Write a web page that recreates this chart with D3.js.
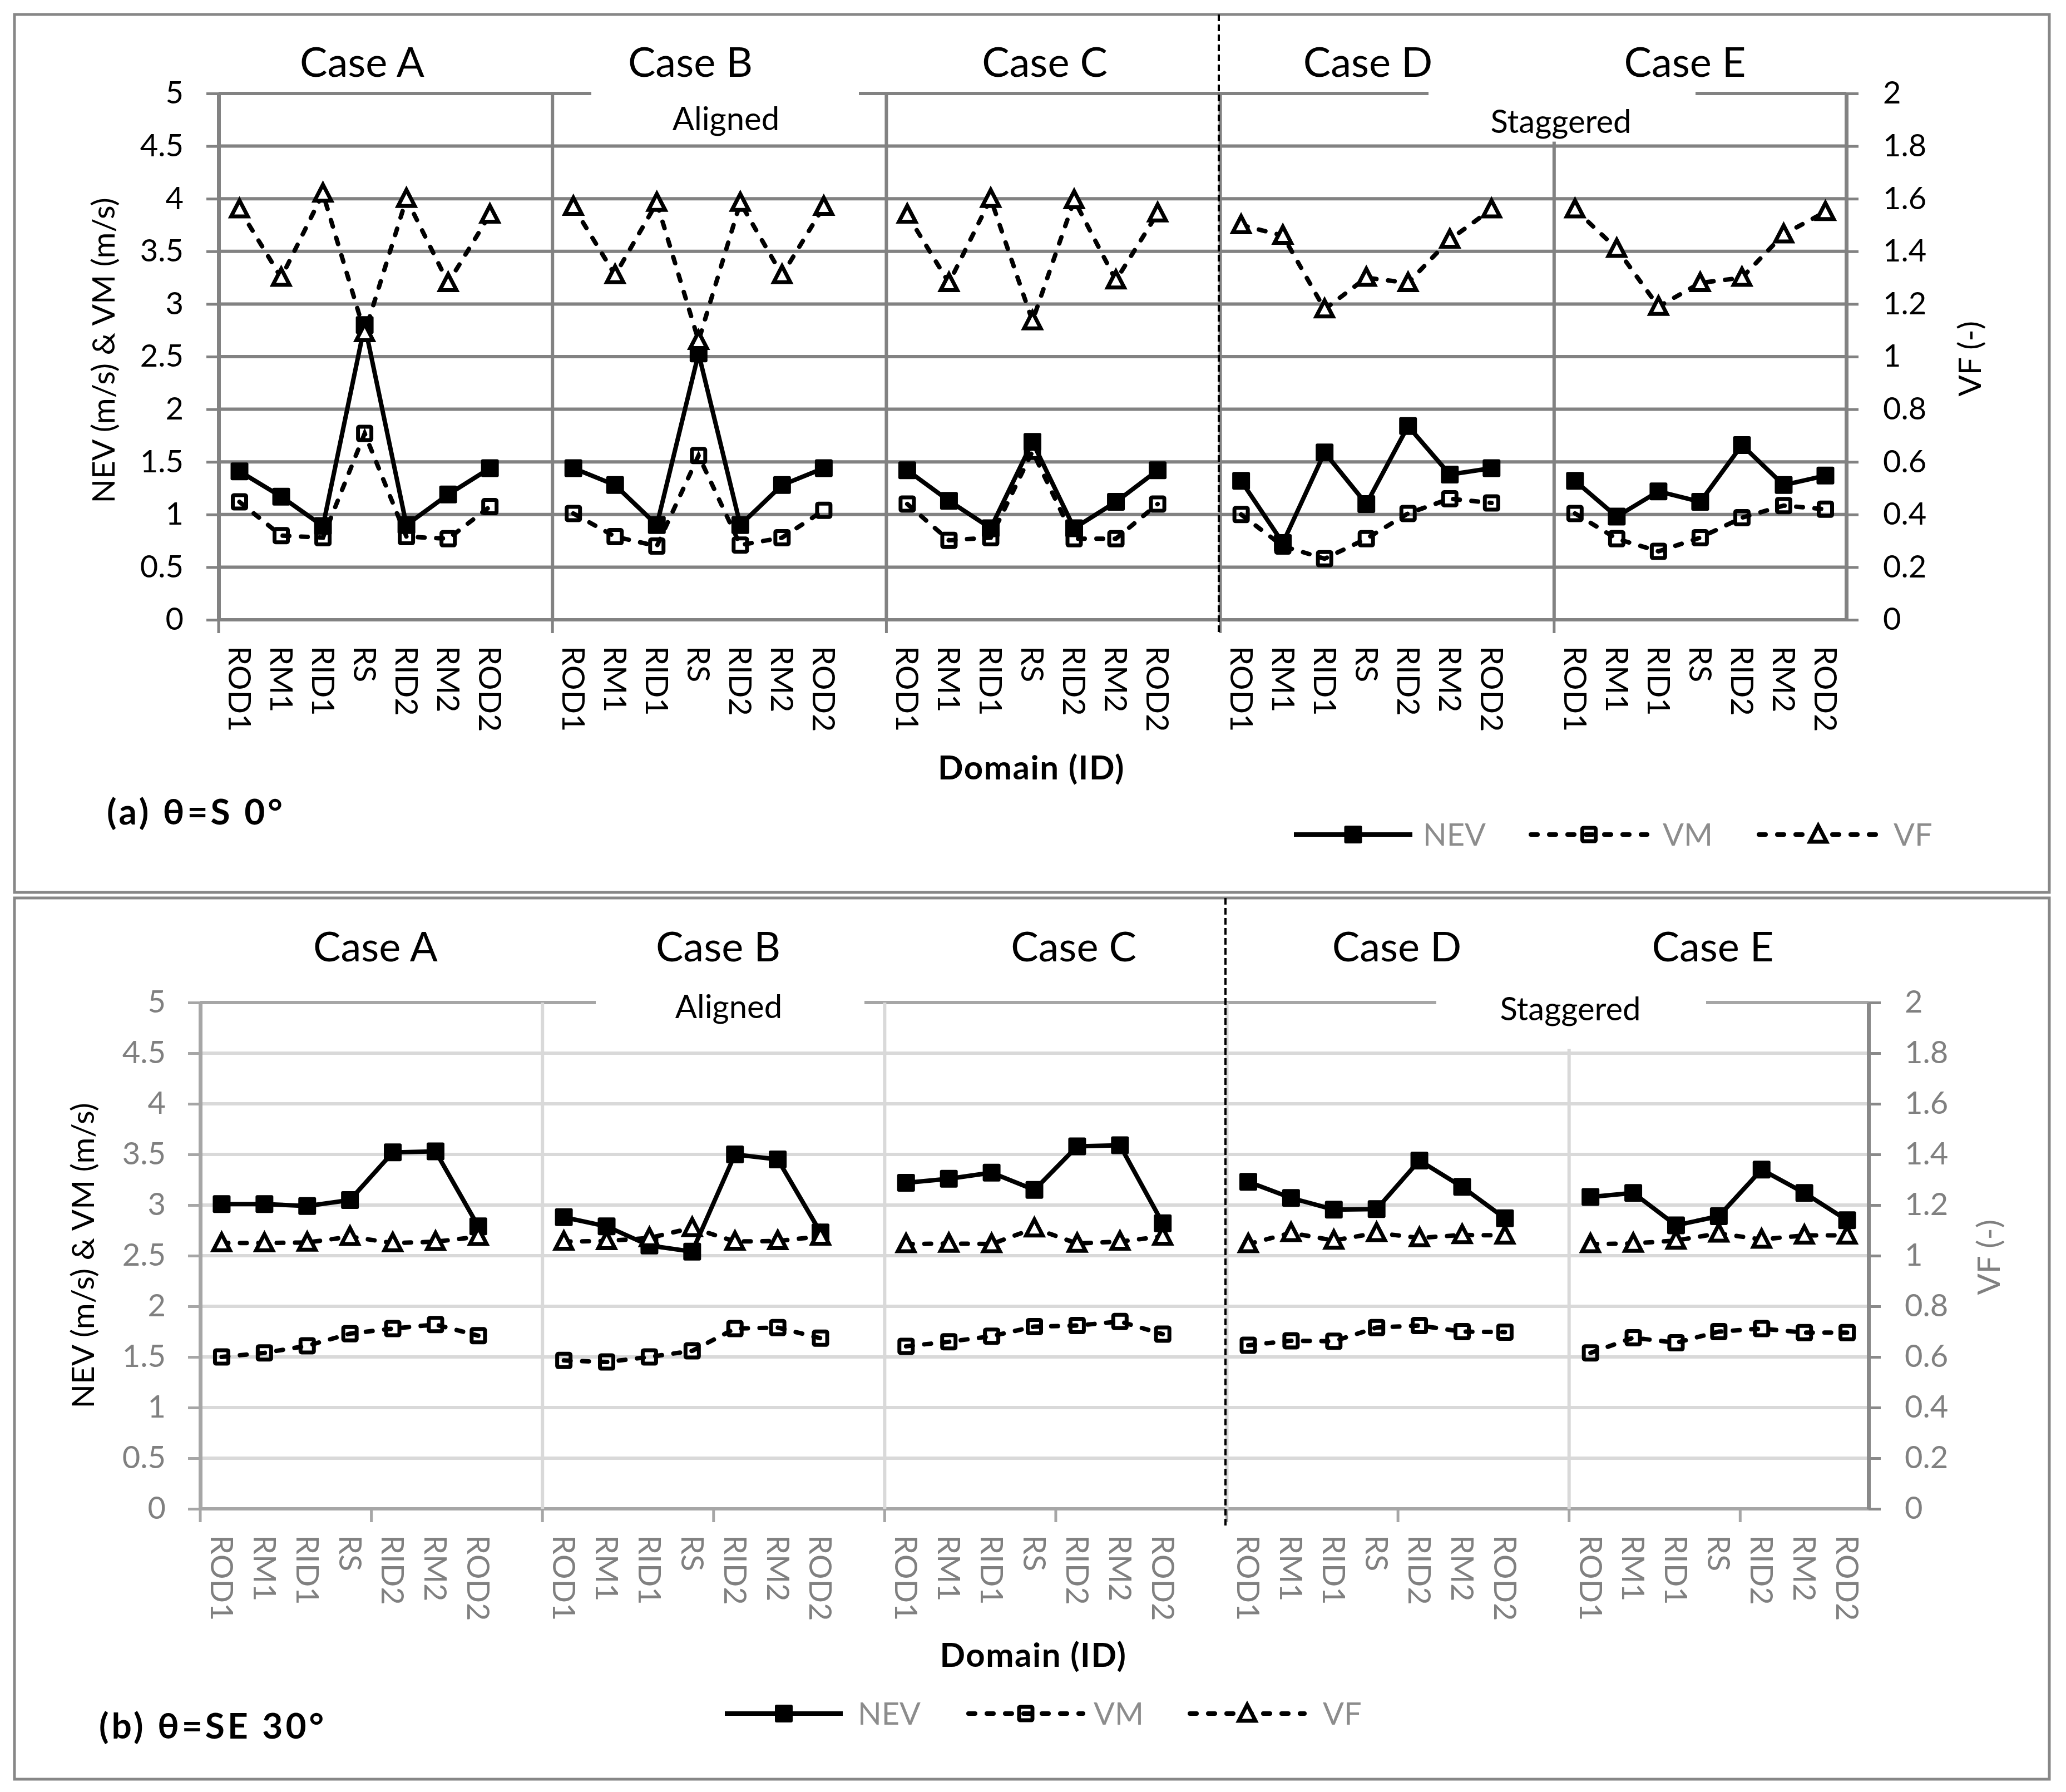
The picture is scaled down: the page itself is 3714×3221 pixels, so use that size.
<!DOCTYPE html>
<html>
<head>
<meta charset="utf-8">
<script src="https://cdn.jsdelivr.net/npm/d3@7"></script>
<style>
  body { margin: 0; background: #fff; }
  svg { display: block; }
  text { font-family: Lato, "Open Sans", sans-serif; }
</style>
</head>
<body>
<svg id="svg" width="3714" height="3221"></svg>
<script>
// ---- data ----
var cases = ["Case A", "Case B", "Case C", "Case D", "Case E"];
var domains = ["ROD1", "RM1", "RID1", "RS", "RID2", "RM2", "ROD2"];
var leftTicks = [0, 0.5, 1, 1.5, 2, 2.5, 3, 3.5, 4, 4.5, 5];
var rightTicks = [0, 0.2, 0.4, 0.6, 0.8, 1, 1.2, 1.4, 1.6, 1.8, 2];
var groupNames = ["Aligned", "Staggered"];
var seriesNames = ["NEV", "VM", "VF"];

// (a) theta = S 0
var nevA = [
  [1.41, 1.17, 0.89, 2.80, 0.90, 1.19, 1.44],
  [1.44, 1.28, 0.90, 2.53, 0.90, 1.28, 1.44],
  [1.42, 1.13, 0.87, 1.69, 0.87, 1.12, 1.42],
  [1.32, 0.73, 1.59, 1.10, 1.84, 1.38, 1.44],
  [1.32, 0.98, 1.22, 1.12, 1.66, 1.28, 1.37]
];
var vmA = [
  [1.12, 0.80, 0.78, 1.77, 0.79, 0.77, 1.075],
  [1.01, 0.79, 0.70, 1.56, 0.71, 0.78, 1.04],
  [1.10, 0.755, 0.78, 1.60, 0.77, 0.77, 1.10],
  [1.00, 0.70, 0.58, 0.77, 1.01, 1.15, 1.11],
  [1.01, 0.77, 0.65, 0.78, 0.97, 1.085, 1.05]
];
var vfA = [
  [1.56, 1.30, 1.62, 1.09, 1.60, 1.28, 1.54],
  [1.57, 1.31, 1.585, 1.06, 1.585, 1.31, 1.57],
  [1.54, 1.28, 1.60, 1.135, 1.595, 1.29, 1.545],
  [1.50, 1.46, 1.18, 1.30, 1.28, 1.445, 1.56],
  [1.56, 1.41, 1.19, 1.28, 1.30, 1.465, 1.55]
];

// (b) theta = SE 30
var nevB = [
  [3.01, 3.01, 2.99, 3.05, 3.52, 3.53, 2.79],
  [2.88, 2.79, 2.60, 2.54, 3.50, 3.45, 2.73],
  [3.22, 3.26, 3.32, 3.15, 3.58, 3.59, 2.82],
  [3.23, 3.07, 2.955, 2.96, 3.44, 3.18, 2.87],
  [3.08, 3.12, 2.80, 2.89, 3.35, 3.12, 2.85]
];
var vmB = [
  [1.50, 1.54, 1.61, 1.73, 1.78, 1.82, 1.71],
  [1.465, 1.45, 1.50, 1.56, 1.78, 1.79, 1.685],
  [1.605, 1.65, 1.705, 1.80, 1.81, 1.85, 1.725],
  [1.615, 1.66, 1.655, 1.79, 1.81, 1.75, 1.745],
  [1.54, 1.69, 1.64, 1.75, 1.78, 1.74, 1.74]
];
var vfB = [
  [1.05, 1.05, 1.052, 1.075, 1.05, 1.055, 1.075],
  [1.056, 1.058, 1.07, 1.11, 1.056, 1.058, 1.076],
  [1.046, 1.048, 1.046, 1.108, 1.048, 1.056, 1.076],
  [1.046, 1.09, 1.06, 1.09, 1.07, 1.082, 1.08],
  [1.046, 1.048, 1.06, 1.088, 1.064, 1.08, 1.08]
];

// ---- layout of the two panels ----
var panelA = {
  frame: {x: 26, y: 26, w: 3658, h: 1578},
  left: 393, right: 3319, top: 168, bottom: 1114,
  grid: "#828282", gridW: 6, edge: "#828282", axis: "#828282", rAxis: "#828282",
  sep: "#828282", sepW: 6, tickColor: "#000", catColor: "#000", rTitleColor: "#000",
  tickEvery: 8, lPad: 41, rPad: 44,
  titleX: [651, 1241, 1878, 2459, 3029], titleY: 138,
  boxes: [[1063, 1544, 1305, 234], [2568, 3048, 2806, 239]],
  dashX: 2191, dashY: [26, 1138],
  domainY: 1401, label: "(a) θ=S 0°", labelX: 192, labelY: 1482,
  legendY: 1500, legend: [[2326, 2539, 2558], [2752, 2961, 2989], [3162, 3375, 3404]],
  lTitle: [186, 630], rTitle: [3541, 645],
  nev: nevA, vm: vmA, vf: vfA
};
var panelB = {
  frame: {x: 26, y: 1614, w: 3658, h: 1584},
  left: 360, right: 3359, top: 1802, bottom: 2712,
  grid: "#d9d9d9", gridW: 6, edge: "#a6a6a6", axis: "#a6a6a6", rAxis: "#898989",
  sep: "#d9d9d9", sepW: 6, tickColor: "#808080", catColor: "#808080", rTitleColor: "#808080",
  tickEvery: 4, lPad: 40, rPad: 43,
  titleX: [675, 1291, 1930, 2511, 3079], titleY: 1728,
  boxes: [[1071, 1554, 1310, 1830], [2582, 3067, 2823, 1834]],
  dashX: 2203, dashY: [1614, 2748],
  domainY: 2996, label: "(b) θ=SE 30°", labelX: 178, labelY: 3125,
  legendY: 3080, legend: [[1303, 1515, 1542], [1741, 1947, 1966], [2139, 2345, 2378]],
  lTitle: [149, 2257], rTitle: [3575, 2260],
  nev: nevB, vm: vmB, vf: vfB
};

var svg = d3.select("#svg");

// slot keys: 7 domains per case plus a blank slot between cases
var slots = [];
cases.forEach(function(c, ci) {
  domains.forEach(function(d, di) { slots.push(ci + "-" + di); });
  if (ci < cases.length - 1) slots.push(ci + "-gap");
});

function marker(g, type, x, y) {
  if (type == 0) {
    g.append("rect").attr("x", x - 16).attr("y", y - 16).attr("width", 32).attr("height", 32)
      .attr("rx", 3).attr("fill", "#000");
  } else if (type == 1) {
    g.append("rect").attr("x", x - 12).attr("y", y - 12).attr("width", 24).attr("height", 24)
      .attr("rx", 2).attr("fill", "none").attr("stroke", "#000").attr("stroke-width", 7);
  } else {
    g.append("path").attr("transform", "translate(" + x + "," + y + ")")
      .attr("d", "M0,-16L15,13L-15,13Z")
      .attr("fill", "#fff").attr("stroke", "#000").attr("stroke-width", 7)
      .attr("stroke-linejoin", "miter");
  }
}

function styleLine(sel, type) {
  sel.attr("fill", "none").attr("stroke", "#000").attr("stroke-width", 8);
  if (type > 0) sel.attr("stroke-dasharray", "12,21").attr("stroke-linecap", "round");
}

function drawPanel(p) {
  var g = svg.append("g");

  var x = d3.scaleBand().domain(slots).range([p.left, p.right]).padding(0);
  var yL = d3.scaleLinear().domain([0, 5]).range([p.bottom, p.top]);
  var yR = d3.scaleLinear().domain([0, 2]).range([p.bottom, p.top]);
  var cx = function(ci, di) { return x(ci + "-" + di) + x.bandwidth() / 2; };
  var fmt = function(d) { return String(d); };

  g.append("rect").attr("x", p.frame.x).attr("y", p.frame.y)
    .attr("width", p.frame.w).attr("height", p.frame.h)
    .attr("fill", "#fff").attr("stroke", "#878787").attr("stroke-width", 5);

  // horizontal gridlines
  g.selectAll(".grid").data(leftTicks).enter().append("line")
    .attr("x1", p.left).attr("x2", p.right)
    .attr("y1", function(d) { return yL(d); }).attr("y2", function(d) { return yL(d); })
    .attr("stroke", function(d) { return (d == 0 || d == 5) ? p.edge : p.grid; })
    .attr("stroke-width", p.gridW);

  // case separators
  var sepX = [1, 2, 3, 4].map(function(ci) { return x(ci + "-0"); });
  g.selectAll(".sep").data(sepX).enter().append("line")
    .attr("x1", function(d) { return d; }).attr("x2", function(d) { return d; })
    .attr("y1", p.top).attr("y2", p.bottom)
    .attr("stroke", p.sep).attr("stroke-width", p.sepW);

  // x tick marks
  var tickX = [];
  for (var k = 0; k < slots.length; k += p.tickEvery) tickX.push(x(slots[k]));
  g.selectAll(".xt").data(tickX).enter().append("line")
    .attr("x1", function(d) { return d; }).attr("x2", function(d) { return d; })
    .attr("y1", p.bottom).attr("y2", p.bottom + 24)
    .attr("stroke", p.axis).attr("stroke-width", 5);

  // category labels
  var pointKeys = slots.filter(function(s) { return s.indexOf("gap") < 0; });
  var xAxis = g.append("g").attr("transform", "translate(0," + p.bottom + ")")
    .call(d3.axisBottom(x).tickValues(pointKeys).tickSize(0)
      .tickFormat(function(s) { return domains[+s.split("-")[1]]; }));
  xAxis.select(".domain").remove();
  xAxis.selectAll("text")
    .attr("transform", "rotate(90)").attr("x", 47).attr("y", 0).attr("dy", "0.35em")
    .attr("text-anchor", "start").attr("fill", p.catColor)
    .style("font-size", "56px").style("font-family", "Lato");

  // y axes
  var lAxis = g.append("g").attr("transform", "translate(" + p.left + ",0)")
    .call(d3.axisLeft(yL).tickValues(leftTicks).tickFormat(fmt)
      .tickSize(22).tickSizeOuter(0).tickPadding(p.lPad));
  var rAxis = g.append("g").attr("transform", "translate(" + p.right + ",0)")
    .call(d3.axisRight(yR).tickValues(rightTicks).tickFormat(fmt)
      .tickSize(22).tickSizeOuter(0).tickPadding(p.rPad));
  [[lAxis, p.axis], [rAxis, p.rAxis]].forEach(function(a) {
    a[0].select(".domain").attr("stroke", a[1]).attr("stroke-width", 7);
    a[0].selectAll(".tick line").attr("stroke", a[1]).attr("stroke-width", 5);
    a[0].selectAll("text").attr("fill", p.tickColor)
      .style("font-size", "56px").style("font-family", "Lato");
  });

  // group boxes (Aligned / Staggered)
  p.boxes.forEach(function(b, i) {
    g.append("rect").attr("x", b[0]).attr("y", p.top - 40)
      .attr("width", b[1] - b[0]).attr("height", (yL(4.5) - 8) - (p.top - 40))
      .attr("fill", "#fff");
    g.append("text").attr("x", b[2]).attr("y", b[3]).attr("text-anchor", "middle")
      .attr("font-size", 58).attr("fill", "#000").text(groupNames[i]);
  });

  // case titles
  g.selectAll(".ct").data(cases).enter().append("text")
    .attr("x", function(d, i) { return p.titleX[i]; }).attr("y", p.titleY)
    .attr("text-anchor", "middle").attr("font-size", 74).attr("fill", "#000")
    .text(function(d) { return d; });

  // dashed divider between aligned and staggered
  g.append("line").attr("x1", p.dashX).attr("x2", p.dashX)
    .attr("y1", p.dashY[0]).attr("y2", p.dashY[1])
    .attr("stroke", "#000").attr("stroke-width", 4).attr("stroke-dasharray", "12,6");

  // axis titles
  g.append("text").attr("transform", "translate(" + p.lTitle[0] + "," + p.lTitle[1] + ") rotate(-90)")
    .attr("text-anchor", "middle").attr("dy", "0.35em").attr("font-size", 57).attr("fill", "#000")
    .text("NEV (m/s) & VM (m/s)");
  g.append("text").attr("transform", "translate(" + p.rTitle[0] + "," + p.rTitle[1] + ") rotate(-90)")
    .attr("text-anchor", "middle").attr("dy", "0.35em").attr("font-size", 57).attr("fill", p.rTitleColor)
    .text("VF (-)");
  g.append("text").attr("x", (p.left + p.right) / 2 - 2).attr("y", p.domainY)
    .attr("text-anchor", "middle").attr("font-size", 60).attr("font-weight", "bold")
    .attr("letter-spacing", 1.5).attr("fill", "#000").text("Domain (ID)");
  g.append("text").attr("x", p.labelX).attr("y", p.labelY)
    .attr("font-size", 64).attr("font-weight", "bold").attr("letter-spacing", 5)
    .attr("fill", "#000").text(p.label);

  // series
  var series = [[p.nev, yL], [p.vm, yL], [p.vf, yR]];
  series.forEach(function(s, type) {
    var line = d3.line()
      .x(function(v) { return v.x; })
      .y(function(v) { return v.y; });
    s[0].forEach(function(vals, ci) {
      var pts = vals.map(function(v, di) { return {x: cx(ci, di), y: s[1](v)}; });
      g.append("path").attr("d", line(pts)).call(styleLine, type);
    });
    s[0].forEach(function(vals, ci) {
      vals.forEach(function(v, di) { marker(g, type, cx(ci, di), s[1](v)); });
    });
  });

  // legend
  p.legend.forEach(function(l, type) {
    g.append("line").attr("x1", l[0]).attr("x2", l[1]).attr("y1", p.legendY).attr("y2", p.legendY)
      .call(styleLine, type);
    marker(g, type, (l[0] + l[1]) / 2, p.legendY);
    g.append("text").attr("x", l[2]).attr("y", p.legendY).attr("dy", "0.35em")
      .attr("font-size", 56).attr("fill", "#8c8c8c").text(seriesNames[type]);
  });
}

drawPanel(panelA);
drawPanel(panelB);
</script>
</body>
</html>
